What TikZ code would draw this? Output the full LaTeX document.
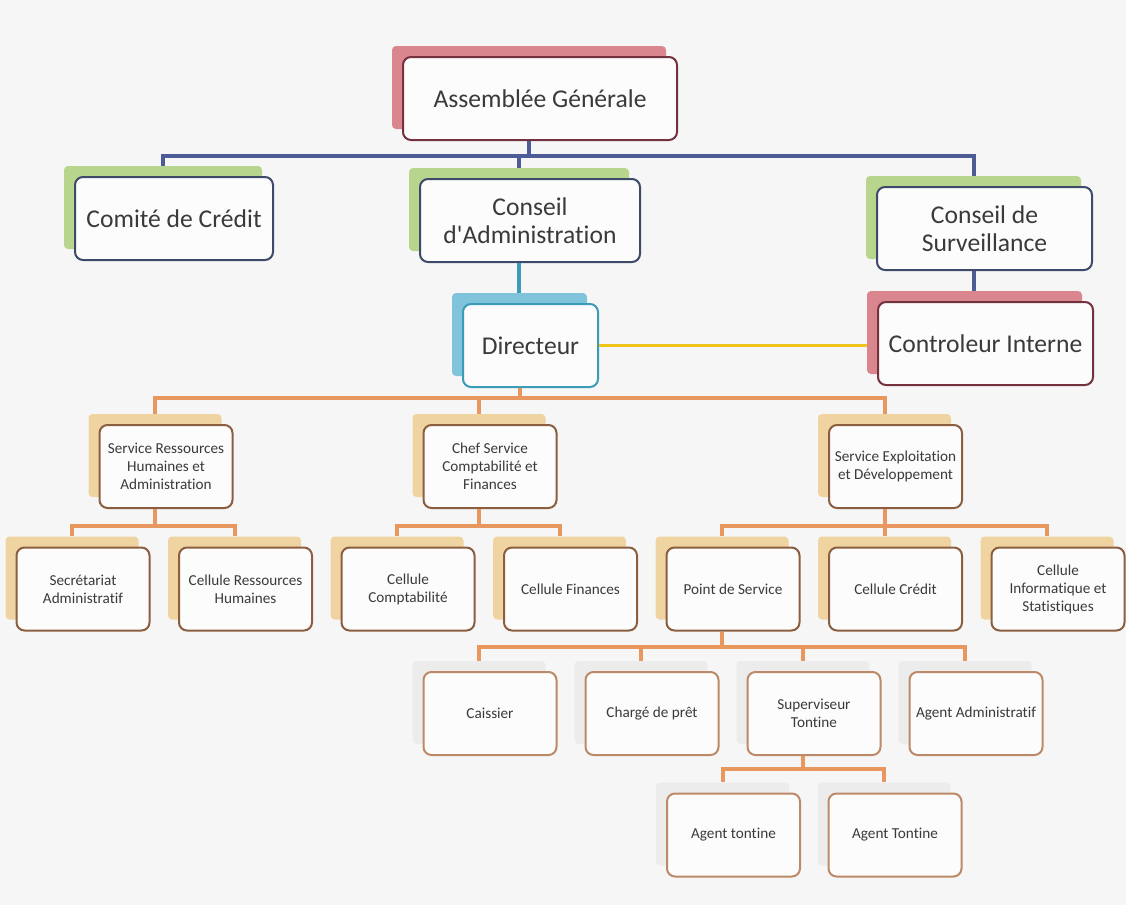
\documentclass[tikz,border=0pt]{standalone}
\usepackage{fontspec}
\setmainfont{Carlito}[Ligatures={NoCommon}]
\usepackage{tikz}
\usetikzlibrary{calc,positioning}
\definecolor{texte}{HTML}{3A3A3A}
\definecolor{papier}{HTML}{F6F6F6}
\definecolor{fond}{HTML}{FCFCFC}
\definecolor{bleu}{HTML}{4D5C96}
\definecolor{ardoise}{HTML}{3E4A6A}
\definecolor{turquoise}{HTML}{3A9CB8}
\definecolor{jaune}{HTML}{F0C419}
\definecolor{orangelien}{HTML}{E8975F}
\definecolor{brun}{HTML}{8C5E40}
\definecolor{brunclair}{HTML}{BC8A68}
\definecolor{rose}{HTML}{D9868E}
\definecolor{bordeaux}{HTML}{74323F}
\definecolor{vert}{HTML}{B7D58D}
\definecolor{ciel}{HTML}{80C4DC}
\definecolor{sable}{HTML}{EFD4A2}
\definecolor{gris}{HTML}{ECECEC}
\tikzset{
    boite/.style={draw=ardoise,rounded corners=4pt,fill=fond,text=texte,align=center,inner sep=0pt,line width=1pt},
    grande/.style={boite,font=\fontsize{12.8}{14}\selectfont,minimum height=41.5pt},
    petite/.style={boite,draw=brun,font=\fontsize{7.6}{9}\selectfont,minimum width=66.5pt,minimum height=41.5pt},
    ombre/.style={draw=none,fill=#1,rounded corners=2pt,inner sep=0pt,minimum height=41.5pt},
    petiteombre/.style={ombre=#1,minimum width=66.5pt},
    lien/.style={draw=#1,line width=2pt},
}

\begin{document}
\begin{tikzpicture}[x=0.5pt,y=-0.5pt]
\useasboundingbox (0,0) rectangle (1126,905);
\fill[papier] (0,0) rectangle (1126,905);

% sommet
\node[ombre=rose,minimum width=137pt]          (ag-s) at (529,87.5) {};
\node[grande,draw=bordeaux,minimum width=137pt] (ag)  at (540,98.5) {Assemblée Générale};

\node[ombre=vert,minimum width=99pt]     (cc-s) at (163,207.5) {};
\node[grande,minimum width=99pt]         (cc)   at (174,218.5) {Comité de Crédit};
\node[ombre=vert,minimum width=110pt]    (ca-s) at (519,209.5) {};
\node[grande,minimum width=110pt]        (ca)   at (530,220.5) {Conseil\\d\textquotesingle Administration};
\node[ombre=vert,minimum width=107.5pt]  (cs-s) at (973.5,217.5) {};
\node[grande,minimum width=107.5pt]      (cs)   at (984.5,228.5) {Conseil de\\Surveillance};

\node[ombre=ciel,minimum width=67.5pt]   (dir-s) at (519.5,334.5) {};
\node[grande,draw=turquoise,minimum width=67.5pt] (dir) at (530.5,345.5) {Directeur};
\node[ombre=rose,minimum width=107.5pt]  (ci-s) at (974.5,332.5) {};
\node[grande,draw=bordeaux,minimum width=107.5pt] (ci) at (985.5,343.5) {Controleur Interne};

\draw[lien=bleu] (ag-s |- ag.south) -- ++(0,15) coordinate (bus1);
\draw[lien=bleu] (cc-s.north) |- (bus1) -| (cs-s.north);
\draw[lien=bleu] (ca-s.north) -- (ca-s.north |- bus1);
\draw[lien=turquoise] (ca-s |- ca.south) -- (ca-s |- dir-s.north);
\draw[lien=bleu] (cs-s |- cs.south) -- (cs-s |- ci-s.north);
\draw[lien=jaune,line width=1.6pt] (dir.east) -- (dir.east -| ci-s.west);

% services
\node[petiteombre=sable] (rh-s)  at (155,455.5) {};
\node[petite]            (rh)    at (166,466.5) {Service Ressources\\Humaines et\\Administration};
\node[petiteombre=sable] (csf-s) at (479,455.5) {};
\node[petite]            (csf)   at (490,466.5) {Chef Service\\Comptabilité et\\Finances};
\node[petiteombre=sable] (sed-s) at (884.5,455.5) {};
\node[petite]            (sed)   at (895.5,466.5) {Service Exploitation\\et Développement};

\draw[lien=orangelien] (dir-s |- dir.south) -- ++(0,10) coordinate (bus2);
\draw[lien=orangelien] (rh-s.north) |- (bus2) -| (sed-s.north);
\draw[lien=orangelien] (csf-s.north) -- (csf-s.north |- bus2);

% cellules
\node[petiteombre=sable] (sec-s)  at (72,578) {};
\node[petite]            (sec)    at (83,589) {Secrétariat\\Administratif};
\node[petiteombre=sable] (crh-s)  at (234.5,578) {};
\node[petite]            (crh)    at (245.5,589) {Cellule Ressources\\Humaines};
\node[petiteombre=sable] (ccpt-s) at (397,578) {};
\node[petite]            (ccpt)   at (408,589) {Cellule\\Comptabilité};
\node[petiteombre=sable] (cfin-s) at (559.5,578) {};
\node[petite]            (cfin)   at (570.5,589) {Cellule Finances};
\node[petiteombre=sable] (pds-s)  at (722,578) {};
\node[petite]            (pds)    at (733,589) {Point de Service};
\node[petiteombre=sable] (ccr-s)  at (884.5,578) {};
\node[petite]            (ccr)    at (895.5,589) {Cellule Crédit};
\node[petiteombre=sable] (cis-s)  at (1047,578) {};
\node[petite]            (cis)    at (1058,589) {Cellule\\Informatique et\\Statistiques};

\draw[lien=orangelien] (rh-s |- rh.south) -- ++(0,17) coordinate (bus3);
\draw[lien=orangelien] (sec-s.north) |- (bus3) -| (crh-s.north);
\draw[lien=orangelien] (csf-s |- csf.south) -- ++(0,17) coordinate (bus4);
\draw[lien=orangelien] (ccpt-s.north) |- (bus4) -| (cfin-s.north);
\draw[lien=orangelien] (sed-s |- sed.south) -- ++(0,17) coordinate (bus5);
\draw[lien=orangelien] (pds-s.north) |- (bus5) -| (cis-s.north);
\draw[lien=orangelien] (ccr-s.north) -- (ccr-s.north |- bus5);

% point de service
\node[petiteombre=gris] (cai-s) at (479,702.5) {};
\node[petite,draw=brunclair] (cai) at (490,713.5) {Caissier};
\node[petiteombre=gris] (chp-s) at (641,702.5) {};
\node[petite,draw=brunclair] (chp) at (652,713.5) {Chargé de prêt};
\node[petiteombre=gris] (sup-s) at (803,702.5) {};
\node[petite,draw=brunclair] (sup) at (814,713.5) {Superviseur\\Tontine};
\node[petiteombre=gris] (aga-s) at (965,702.5) {};
\node[petite,draw=brunclair] (aga) at (976,713.5) {Agent Administratif};

\draw[lien=orangelien] (pds-s |- pds.south) -- ++(0,15.5) coordinate (bus6);
\draw[lien=orangelien] (cai-s.north) |- (bus6) -| (aga-s.north);
\draw[lien=orangelien] (chp-s.north) -- (chp-s.north |- bus6);
\draw[lien=orangelien] (sup-s.north) -- (sup-s.north |- bus6);

\node[petiteombre=gris] (at1-s) at (722.5,824) {};
\node[petite,draw=brunclair] (at1) at (733.5,835) {Agent tontine};
\node[petiteombre=gris] (at2-s) at (884,824) {};
\node[petite,draw=brunclair] (at2) at (895,835) {Agent Tontine};

\draw[lien=orangelien] (sup-s |- sup.south) -- ++(0,13) coordinate (bus7);
\draw[lien=orangelien] (at1-s.north) |- (bus7) -| (at2-s.north);
\end{tikzpicture}
\end{document}
